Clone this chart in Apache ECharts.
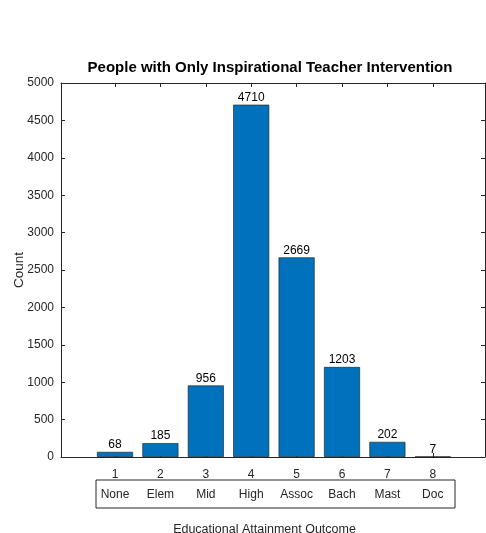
<!DOCTYPE html>
<html>
<head>
<meta charset="utf-8">
<script src="https://cdn.jsdelivr.net/npm/echarts@6/dist/echarts.min.js"></script>
<style>
  html, body { margin: 0; padding: 0; background: #fff; }
  #main { width: 486px; height: 533px; }
</style>
</head>
<body>
<div id="main"></div>
<script type="text/javascript">
    // data
    var positions = [1, 2, 3, 4, 5, 6, 7, 8];
    var levelNames = ['None', 'Elem', 'Mid', 'High', 'Assoc', 'Bach', 'Mast', 'Doc'];
    var counts = [68, 185, 956, 4710, 2669, 1203, 202, 7];

    var myChart = echarts.init(document.getElementById('main'));
    var font = 'Liberation Sans, Arial, Helvetica, sans-serif';
    var axisColor = '#262626';

    var barData = positions.map(function (p, i) { return [p, counts[i]]; });

    option = {
        animation: false,
        textStyle: { fontFamily: font },
        title: {
            text: 'People with Only Inspirational Teacher Intervention',
            left: 265,
            top: 55,
            textAlign: 'center',
            textStyle: { fontSize: 15, fontWeight: 'bold', color: '#000', fontFamily: font }
        },
        grid: { left: 61, right: 1, top: 83, bottom: 76, containLabel: false, outerBoundsMode: 'none' },
        xAxis: [{
            type: 'value',
            position: 'bottom',
            min: -0.19,
            max: 9.15,
            name: 'Educational Attainment Outcome',
            nameLocation: 'middle',
            nameGap: 66,
            nameTextStyle: { fontSize: 12.5, color: axisColor, fontFamily: font, padding: [0, 17, 0, 0] },
            axisLine: { show: true, onZero: false, lineStyle: { color: axisColor, width: 1 } },
            axisTick: { show: true, inside: true, length: 4, customValues: positions, lineStyle: { color: axisColor } },
            axisLabel: {
                customValues: positions,
                margin: 8,
                color: axisColor,
                fontSize: 12,
                lineHeight: 20,
                formatter: function (v) {
                    return v + '\n' + levelNames[v - 1];
                }
            },
            splitLine: { show: false }
        }, {
            type: 'value',
            position: 'top',
            min: -0.19,
            max: 9.15,
            axisLine: { show: true, onZero: false, lineStyle: { color: axisColor, width: 1 } },
            axisTick: { show: true, inside: true, length: 4, customValues: positions, lineStyle: { color: axisColor } },
            axisLabel: { show: false },
            splitLine: { show: false }
        }],
        yAxis: [{
            type: 'value',
            position: 'left',
            min: 0,
            max: 5000,
            interval: 500,
            name: 'Count',
            nameLocation: 'middle',
            nameGap: 35,
            nameMoveOverlap: false,
            nameTextStyle: { fontSize: 13.5, color: axisColor, fontFamily: font },
            axisLine: { show: true, onZero: false, lineStyle: { color: axisColor, width: 1 } },
            axisTick: { show: true, inside: true, length: 4, lineStyle: { color: axisColor } },
            axisLabel: {
                color: axisColor, fontSize: 12, margin: 7,
                formatter: function (v) { return String(v); }
            },
            splitLine: { show: false }
        }, {
            type: 'value',
            position: 'right',
            min: 0,
            max: 5000,
            interval: 500,
            axisLine: { show: true, onZero: false, lineStyle: { color: axisColor, width: 1 } },
            axisTick: { show: true, inside: true, length: 4, lineStyle: { color: axisColor } },
            axisLabel: { show: false },
            splitLine: { show: false }
        }],
        graphic: [{
            type: 'rect',
            shape: { x: 96, y: 480, width: 359, height: 28 },
            style: { fill: 'none', stroke: axisColor, lineWidth: 1 }
        }],
        series: [{
            type: 'bar',
            xAxisIndex: 0,
            yAxisIndex: 0,
            data: barData,
            barWidth: 36,
            itemStyle: { color: '#0072BD', borderColor: '#1a1a1a', borderWidth: 0.6 },
            label: {
                show: true,
                position: 'top',
                distance: 1,
                color: '#000',
                fontSize: 12,
                fontFamily: font,
                formatter: function (p) { return p.value[1]; }
            }
        }]
    };

    myChart.setOption(option);
</script>
</body>
</html>
